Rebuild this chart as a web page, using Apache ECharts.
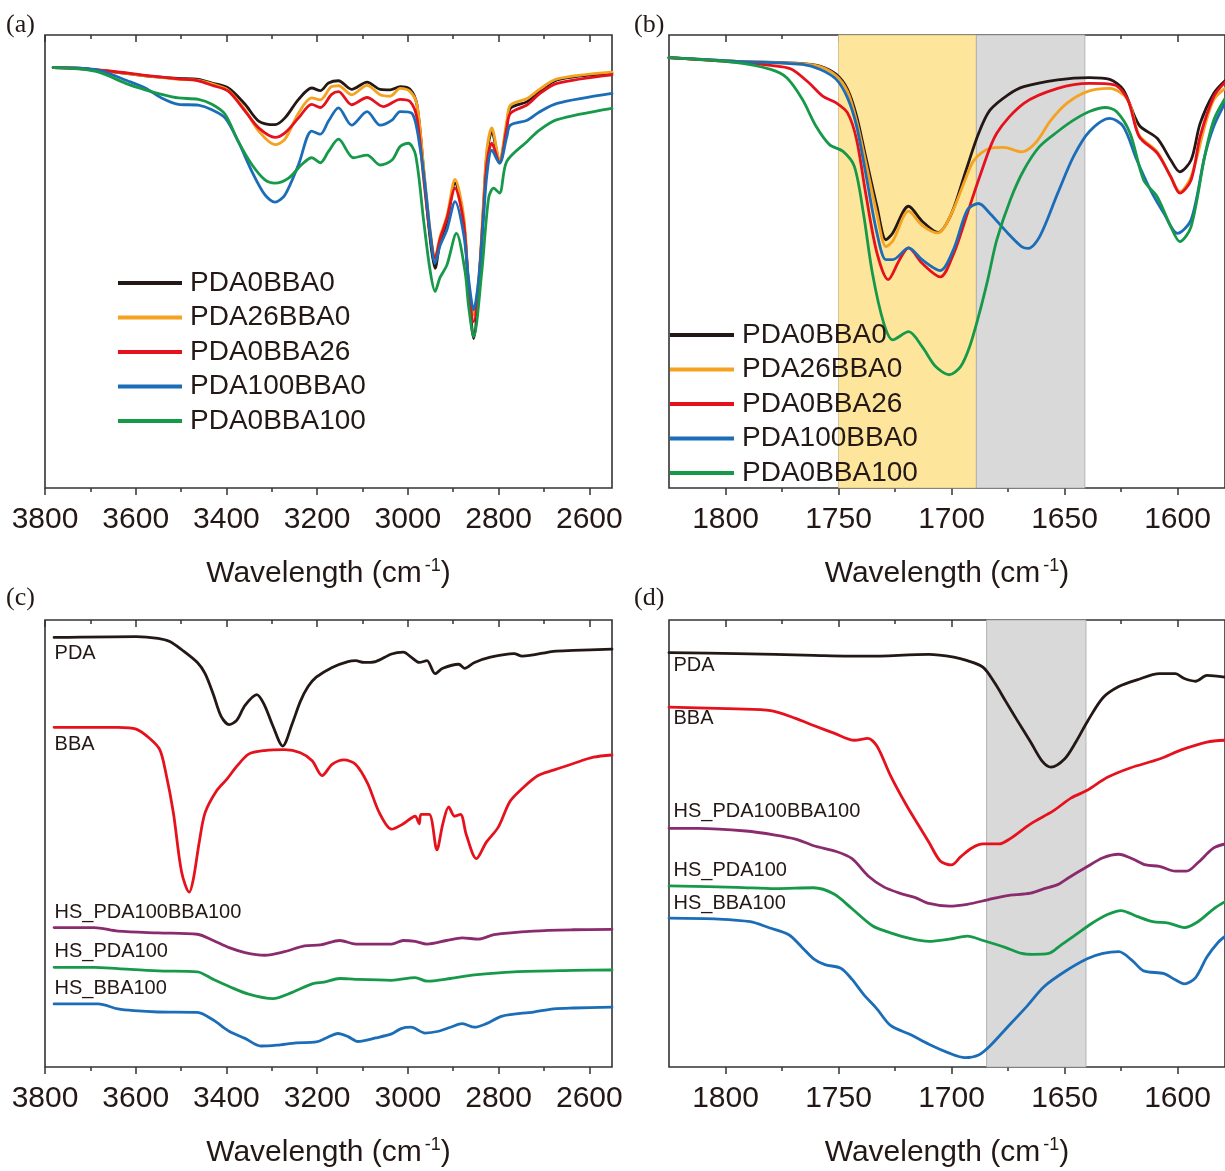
<!DOCTYPE html>
<html>
<head>
<meta charset="utf-8">
<script src="https://cdn.jsdelivr.net/npm/echarts@6/dist/echarts.min.js"></script>
<style>html,body{margin:0;padding:0;background:#fff}#chart{width:1225px;height:1171px}</style>
</head>
<body>
<div id="chart"></div>
<script>
// ---------- tick / label values ----------
const majorWide = [3800,3600,3400,3200,3000,2800,2600];
const minorWide = [3700,3500,3300,3100,2900,2700];
const majorNarrow = [1800,1750,1700,1650,1600];
const minorNarrow = [1775,1725,1675,1625];

// ---------- shaded regions (cm-1) ----------
const bandYellowB = [1750, 1689];
const bandGrayB = [1689, 1641];
const bandGrayD = [1684.5, 1640.5];

// ---------- series names ----------
const namesAB = ['PDA0BBA0','PDA26BBA0','PDA0BBA26','PDA100BBA0','PDA0BBA100'];
const namesCD = ['PDA','BBA','HS_PDA100BBA100','HS_PDA100','HS_BBA100'];

// ---------- panel (a): [wavenumber, transmittance a.u.] ----------
const a_PDA0BBA0 = [[3782,92.8],[3727,92.7],[3653,91.9],[3579,91.0],[3506,90.4],[3462,90.2],[3432,89.4],[3396,88.3],[3359,84.7],[3329,81.0],[3293,80.2],[3271,81.7],[3241,85.8],[3212,88.3],[3193,87.7],[3175,89.4],[3153,89.9],[3124,88.0],[3090,89.6],[3061,88.0],[3039,87.9],[3017,88.6],[2995,88.0],[2980,84.6],[2965,69.9],[2951,55.1],[2940,48.5],[2929,54.4],[2914,58.8],[2896,67.3],[2877,58.8],[2866,44.1],[2855,33.0],[2844,44.1],[2833,62.5],[2826,73.5],[2815,78.7],[2798,72.1],[2782,80.0],[2774,83.8],[2737,85.3],[2710,87.5],[2671,90.1],[2550,91.6]];
const a_PDA26BBA0 = [[3782,92.8],[3727,92.7],[3653,91.9],[3579,91.0],[3506,90.2],[3462,90.0],[3432,89.2],[3396,87.8],[3359,83.5],[3329,78.8],[3293,75.8],[3271,77.0],[3241,82.8],[3212,86.1],[3193,85.7],[3170,88.5],[3153,88.8],[3124,86.8],[3090,88.9],[3061,86.8],[3039,86.5],[3017,88.2],[2995,87.5],[2980,84.6],[2965,70.5],[2951,57.0],[2940,51.0],[2929,55.5],[2914,60.0],[2896,68.1],[2877,60.0],[2866,45.0],[2855,38.2],[2844,46.0],[2833,63.5],[2826,74.5],[2815,79.5],[2798,72.3],[2782,81.0],[2774,84.5],[2737,86.0],[2710,88.0],[2671,90.3],[2550,91.8]];
const a_PDA0BBA26 = [[3782,92.8],[3727,92.6],[3653,92.0],[3579,91.1],[3506,90.3],[3462,89.9],[3432,88.9],[3396,87.6],[3359,83.2],[3329,79.5],[3293,77.4],[3271,78.4],[3241,81.7],[3212,84.7],[3193,84.0],[3168,86.9],[3153,87.5],[3124,84.6],[3090,86.2],[3054,84.2],[3017,85.8],[2995,85.3],[2980,81.7],[2965,68.0],[2951,56.0],[2940,50.7],[2929,55.0],[2914,59.5],[2896,66.2],[2877,58.5],[2866,44.5],[2855,36.7],[2844,45.0],[2833,61.5],[2826,71.5],[2815,76.1],[2798,71.7],[2782,79.5],[2774,82.7],[2737,84.6],[2710,87.0],[2671,89.3],[2550,91.2]];
const a_PDA100BBA0 = [[3782,92.8],[3690,92.4],[3616,89.8],[3579,88.3],[3543,86.1],[3506,84.7],[3462,84.5],[3432,83.5],[3403,81.7],[3374,76.5],[3344,69.9],[3315,64.7],[3293,63.1],[3271,64.7],[3241,71.4],[3212,78.8],[3193,78.1],[3175,81.0],[3153,83.9],[3124,80.1],[3090,83.1],[3061,80.1],[3035,81.2],[3017,83.1],[2991,82.7],[2973,75.0],[2960,65.0],[2951,56.5],[2940,49.6],[2929,53.5],[2914,57.0],[2896,63.2],[2877,56.0],[2866,46.0],[2855,39.3],[2844,46.0],[2833,60.0],[2826,69.0],[2815,74.6],[2798,71.7],[2782,77.5],[2774,80.1],[2737,81.2],[2710,83.0],[2671,84.9],[2550,87.1]];
const a_PDA0BBA100 = [[3782,92.8],[3690,92.0],[3616,89.1],[3579,87.9],[3543,86.9],[3506,86.1],[3462,85.8],[3432,84.7],[3403,82.5],[3374,76.5],[3344,71.4],[3315,68.0],[3293,67.3],[3263,68.4],[3234,71.4],[3212,72.9],[3193,71.8],[3175,74.3],[3153,77.0],[3120,72.9],[3090,73.5],[3061,71.3],[3035,72.4],[3017,75.4],[2999,76.1],[2983,73.5],[2965,58.8],[2951,48.0],[2940,43.4],[2929,46.5],[2914,49.2],[2893,56.2],[2874,47.8],[2866,40.0],[2855,33.4],[2837,47.8],[2822,64.0],[2811,66.2],[2798,65.1],[2782,72.1],[2737,76.5],[2710,79.0],[2671,81.3],[2550,83.8]];

// ---------- panel (b) ----------
const b_PDA0BBA0 = [[1825,95.0],[1795,94.2],[1766,93.7],[1758,93.1],[1751,91.3],[1746,88.0],[1742,82.1],[1738,73.2],[1733,62.2],[1729,54.8],[1726,56.3],[1719,62.2],[1713,58.9],[1706,56.4],[1700,60.6],[1694,69.5],[1688,78.3],[1683,83.4],[1675,86.8],[1668,88.6],[1653,90.1],[1639,90.6],[1630,90.2],[1624,87.9],[1617,80.1],[1609,77.2],[1603,72.4],[1599,69.8],[1594,72.4],[1590,80.5],[1584,87.1],[1579,89.9]];
const b_PDA26BBA0 = [[1825,95.0],[1795,94.2],[1766,93.6],[1758,93.0],[1751,91.0],[1746,87.5],[1742,81.0],[1738,72.0],[1733,60.5],[1729,53.3],[1726,54.5],[1719,61.1],[1713,58.0],[1706,56.3],[1700,60.6],[1694,68.0],[1690,72.4],[1683,75.0],[1677,75.2],[1669,74.2],[1663,76.1],[1656,81.2],[1649,84.9],[1640,87.5],[1630,88.2],[1622,85.7],[1617,77.9],[1609,74.2],[1603,68.7],[1599,65.4],[1594,68.7],[1588,79.8],[1584,85.7],[1579,88.2]];
const b_PDA0BBA26 = [[1825,95.0],[1795,94.0],[1780,93.3],[1771,92.5],[1763,89.4],[1757,86.5],[1751,85.0],[1746,82.8],[1742,76.9],[1738,65.1],[1733,51.9],[1728,46.0],[1723,50.4],[1719,53.0],[1713,49.6],[1705,46.6],[1699,51.8],[1693,60.6],[1687,69.5],[1680,78.3],[1668,84.9],[1653,88.2],[1639,89.3],[1628,89.0],[1622,85.7],[1617,77.6],[1609,73.9],[1603,68.7],[1599,65.1],[1594,68.0],[1590,77.6],[1584,86.4],[1579,89.6]];
const b_PDA100BBA0 = [[1825,95.0],[1795,94.2],[1766,93.5],[1758,92.4],[1751,90.2],[1746,86.1],[1742,79.9],[1738,69.6],[1733,56.3],[1729,50.4],[1726,50.4],[1719,53.0],[1713,50.4],[1705,48.0],[1699,52.8],[1693,61.4],[1688,62.8],[1683,60.6],[1675,56.2],[1669,53.3],[1666,52.9],[1661,55.5],[1653,65.1],[1646,73.2],[1639,78.7],[1630,81.6],[1624,79.8],[1618,72.4],[1612,65.8],[1606,60.6],[1600,56.2],[1594,59.2],[1588,73.2],[1584,79.8],[1579,85.0]];
const b_PDA0BBA100 = [[1825,95.0],[1795,93.9],[1780,92.4],[1773,90.6],[1766,85.8],[1760,79.9],[1754,75.8],[1748,74.3],[1743,71.0],[1739,60.7],[1735,47.4],[1730,36.4],[1726,32.7],[1719,34.5],[1713,31.2],[1707,26.8],[1701,25.0],[1696,26.8],[1692,31.2],[1688,38.0],[1684,45.9],[1680,54.7],[1674,63.6],[1668,70.2],[1661,75.4],[1653,78.7],[1646,81.2],[1639,83.1],[1632,84.0],[1627,83.1],[1621,78.3],[1615,68.0],[1609,64.3],[1603,57.7],[1599,54.4],[1594,57.7],[1588,73.2],[1584,81.2],[1579,86.0]];

// ---------- panel (c) ----------
const c_PDA = [[3780,96.1],[3599,96.3],[3551,95.9],[3525,95.2],[3499,93.4],[3464,90.5],[3447,88.0],[3429,83.4],[3412,78.5],[3394,76.6],[3377,77.6],[3359,80.9],[3333,83.3],[3316,80.9],[3298,76.4],[3276,71.8],[3255,76.8],[3237,81.8],[3220,85.1],[3202,87.2],[3167,89.4],[3132,90.7],[3115,90.9],[3097,90.5],[3071,90.7],[3036,92.4],[3010,92.8],[2993,91.7],[2975,90.5],[2958,90.9],[2940,88.0],[2923,89.2],[2888,90.1],[2875,89.2],[2853,90.5],[2818,91.7],[2766,92.5],[2748,91.9],[2679,93.0],[2635,93.2],[2550,93.5]];
const c_BBA = [[3780,76.0],[3639,76.0],[3599,75.6],[3569,73.5],[3547,71.0],[3534,66.0],[3517,56.9],[3499,43.7],[3482,39.1],[3473,42.0],[3460,50.3],[3447,56.9],[3421,61.9],[3399,64.4],[3377,67.3],[3351,70.0],[3316,70.8],[3272,71.0],[3237,70.3],[3211,68.5],[3189,65.2],[3167,67.7],[3141,68.7],[3115,67.7],[3089,63.5],[3063,56.9],[3036,53.2],[3010,54.4],[2984,56.1],[2975,54.4],[2971,56.5],[2953,56.5],[2936,48.6],[2923,54.4],[2910,58.2],[2897,56.1],[2884,56.5],[2871,51.9],[2849,46.6],[2827,50.3],[2801,53.6],[2775,59.4],[2748,62.3],[2713,65.2],[2679,66.4],[2635,67.9],[2591,69.3],[2550,69.8]];
const c_HS_PDA100BBA100 = [[3780,31.2],[3692,31.2],[3639,30.4],[3551,30.0],[3464,29.7],[3429,28.3],[3394,26.7],[3359,25.6],[3316,25.0],[3272,25.8],[3228,27.1],[3193,27.3],[3150,28.3],[3115,27.5],[3036,27.5],[3010,28.3],[2984,28.1],[2958,27.5],[2915,28.3],[2880,28.9],[2845,28.6],[2810,29.6],[2723,30.4],[2635,30.7],[2550,30.8]];
const c_HS_PDA100 = [[3780,22.3],[3692,22.3],[3639,22.0],[3551,21.5],[3464,21.3],[3429,19.6],[3394,18.0],[3351,16.3],[3298,15.3],[3255,16.7],[3211,18.6],[3185,19.0],[3150,19.8],[3115,19.6],[3036,19.4],[2984,20.0],[2958,19.2],[2906,19.8],[2853,20.6],[2766,21.3],[2635,21.6],[2550,21.7]];
const c_HS_BBA100 = [[3780,14.1],[3683,14.1],[3639,13.0],[3604,12.6],[3551,12.3],[3464,12.2],[3429,10.5],[3394,8.0],[3359,6.4],[3324,4.7],[3289,4.9],[3246,5.4],[3202,5.6],[3180,6.5],[3154,7.5],[3132,6.8],[3110,5.7],[3071,6.5],[3036,7.4],[3015,8.6],[2993,8.9],[2962,7.6],[2932,8.0],[2906,8.9],[2880,9.7],[2853,8.9],[2827,9.7],[2792,11.4],[2723,12.3],[2679,13.0],[2635,13.2],[2550,13.4]];

// ---------- panel (d) ----------
const d_PDA = [[1825,92.7],[1795,92.5],[1761,92.1],[1737,91.9],[1710,92.3],[1699,91.7],[1693,90.9],[1686,89.4],[1681,86.0],[1676,81.8],[1671,77.6],[1665,72.7],[1660,68.5],[1656,67.1],[1650,68.9],[1645,72.7],[1640,77.2],[1633,82.6],[1626,85.1],[1618,86.6],[1608,88.0],[1601,88.0],[1597,86.9],[1592,86.3],[1587,87.6],[1579,87.2]];
const d_BBA = [[1825,80.5],[1795,80.1],[1780,79.7],[1769,78.0],[1761,76.4],[1752,74.7],[1743,73.1],[1737,73.5],[1733,71.8],[1727,65.2],[1720,58.6],[1715,54.4],[1710,50.3],[1705,46.1],[1700,45.2],[1696,47.0],[1691,49.0],[1686,49.9],[1679,49.9],[1674,51.1],[1665,54.4],[1655,57.3],[1647,60.2],[1640,61.9],[1631,64.8],[1621,66.9],[1608,68.9],[1598,71.0],[1587,72.7],[1579,73.1]];
const d_HS_PDA100BBA100 = [[1825,53.4],[1812,53.4],[1791,52.8],[1778,51.9],[1769,51.0],[1761,49.5],[1751,48.2],[1744,46.6],[1737,42.8],[1730,40.3],[1723,38.9],[1716,37.9],[1710,36.6],[1701,36.0],[1693,36.4],[1684,37.4],[1676,38.3],[1665,38.9],[1659,39.9],[1653,40.8],[1648,42.4],[1641,44.5],[1633,46.8],[1626,47.6],[1620,46.6],[1614,45.2],[1608,44.9],[1601,43.8],[1596,43.8],[1591,45.7],[1584,49.0],[1579,49.9]];
const d_HS_PDA100 = [[1825,40.5],[1795,40.2],[1778,39.9],[1761,40.1],[1752,38.7],[1744,35.4],[1735,31.6],[1727,30.0],[1718,28.7],[1710,28.1],[1701,28.6],[1693,29.3],[1686,28.3],[1676,26.7],[1669,25.4],[1664,25.2],[1657,25.4],[1652,27.1],[1645,29.6],[1638,32.1],[1631,34.1],[1625,35.0],[1618,33.7],[1611,32.5],[1604,32.2],[1597,31.2],[1591,32.5],[1584,35.4],[1579,37.0]];
const d_HS_BBA100 = [[1825,33.3],[1803,33.1],[1789,32.5],[1781,31.2],[1772,29.6],[1766,26.7],[1761,24.2],[1756,22.9],[1749,22.1],[1744,19.6],[1739,16.3],[1733,13.0],[1727,9.3],[1718,7.2],[1710,5.1],[1701,3.1],[1694,2.1],[1688,2.7],[1683,4.7],[1676,8.5],[1667,13.4],[1659,18.0],[1650,21.3],[1640,24.2],[1633,25.4],[1626,25.8],[1620,23.8],[1615,21.5],[1606,20.9],[1601,19.5],[1597,18.6],[1592,20.0],[1587,24.6],[1582,27.9],[1579,29.2]];

// ---------- styling ----------
const SANS = 'Arial, "Liberation Sans", Helvetica, sans-serif';
const SERIF = '"Times New Roman", "Liberation Serif", serif';
const INK = '#231815';
const colorsAB = ['#231815','#F4A21F','#E5121D','#1C6DB7','#17994A'];
const colorsCD = ['#231815','#E5121D','#8A2B6E','#17994A','#1C6DB7'];
const labelOffsetsC = [[1,17],[1,18],[1,-15],[1,-15],[1,-15]];
const labelOffsetsD = [[5,13],[5,12],[5,-16],[5,-15],[5,-14]];

const grids = [
  {left:45, top:35, width:567, height:453},
  {left:669, top:35, width:558, height:453},
  {left:45, top:620, width:567, height:453},
  {left:669, top:620, width:558, height:453}
].map(g => Object.assign({show:true, borderColor:'#333', borderWidth:1.6, backgroundColor:'transparent'}, g));

function tickAxis(gi, min, max, pos, inside, ticks, len) {
  return {
    type:'value', gridIndex:gi, min:min, max:max, inverse:true, position:pos,
    axisLine:{show:false}, splitLine:{show:false},
    axisTick:{show:true, inside:inside, customValues:ticks, length:len, lineStyle:{color:'#333', width:1.5}},
    axisLabel:{show:false}
  };
}

function xAxes(gi, min, max, major, minor) {
  return [{
    type:'value', gridIndex:gi, min:min, max:max, inverse:true, position:'bottom',
    axisLine:{show:false}, splitLine:{show:false},
    axisTick:{show:true, customValues:major, length:7, lineStyle:{color:'#333', width:1.5}},
    axisLabel:{show:true, customValues:major, margin:17, fontSize:30, lineHeight:30, color:'#231815', fontFamily:SANS,
      formatter: v => String(v)},
    name:'Wavelength (cm{sup|-1})', nameLocation:'middle', nameGap:69,
    nameTextStyle:{fontSize:30, lineHeight:34, color:'#231815', fontFamily:SANS,
      rich:{sup:{fontSize:18, lineHeight:18, verticalAlign:'top', padding:[0,0,0,3], fontFamily:SANS, color:'#231815'}}}
  },
  tickAxis(gi, min, max, 'bottom', false, minor, 4),
  tickAxis(gi, min, max, 'top', true, major, 7),
  tickAxis(gi, min, max, 'top', true, minor, 4)];
}

const xAxis = [].concat(
  xAxes(0, 2550, 3800, majorWide, minorWide),
  xAxes(1, 1579, 1825, majorNarrow, minorNarrow),
  xAxes(2, 2550, 3800, majorWide, minorWide),
  xAxes(3, 1579, 1825, majorNarrow, minorNarrow)
);
const yAxis = [0,1,2,3].map(gi => ({type:'value', gridIndex:gi, min:0, max:100,
  axisLine:{show:false}, axisTick:{show:false}, axisLabel:{show:false}, splitLine:{show:false}}));

function lineSeries(name, data, xi, yi, color, extra) {
  return Object.assign({
    type:'line', name:name, data:data, xAxisIndex:xi, yAxisIndex:yi,
    showSymbol:false, symbol:'none', smooth:0.3, z:3,
    lineStyle:{color:color, width:2.8, join:'round', cap:'round'}, itemStyle:{color:color}, silent:true
  }, extra || {});
}

const aData = [a_PDA0BBA0, a_PDA26BBA0, a_PDA0BBA26, a_PDA100BBA0, a_PDA0BBA100];
const bData = [b_PDA0BBA0, b_PDA26BBA0, b_PDA0BBA26, b_PDA100BBA0, b_PDA0BBA100];
const cData = [c_PDA, c_BBA, c_HS_PDA100BBA100, c_HS_PDA100, c_HS_BBA100];
const dData = [d_PDA, d_BBA, d_HS_PDA100BBA100, d_HS_PDA100, d_HS_BBA100];

function labelMark(name, pt, off) {
  return {
    symbol:'rect', symbolSize:1, silent:true, animation:false,
    itemStyle:{color:'rgba(0,0,0,0)'},
    label:{show:true, position:off, formatter:name, align:'left', verticalAlign:'middle',
      fontSize:20, color:INK, fontFamily:SANS},
    data:[{coord:pt}]
  };
}

// bottom x-axis index of each grid (4 x-axes per grid)
const XI = [0, 4, 8, 12];

const series = [];
series.push({type:'line', name:'bandB', xAxisIndex:XI[1], yAxisIndex:1, data:[], z:1, silent:true,
  markArea:{silent:true, data:[
    [{xAxis:bandYellowB[0], itemStyle:{color:'#FDE59C', borderColor:'#C9B98A', borderWidth:0.8}}, {xAxis:bandYellowB[1]}],
    [{xAxis:bandGrayB[0], itemStyle:{color:'#D9D9D9', borderColor:'#A8A8A8', borderWidth:0.8}}, {xAxis:bandGrayB[1]}]
  ]}});
series.push({type:'line', name:'bandD', xAxisIndex:XI[3], yAxisIndex:3, data:[], z:1, silent:true,
  markArea:{silent:true, data:[
    [{xAxis:bandGrayD[0], itemStyle:{color:'#D9D9D9', borderColor:'#A8A8A8', borderWidth:0.8}}, {xAxis:bandGrayD[1]}]
  ]}});

namesAB.forEach((n,i) => series.push(lineSeries(n, aData[i], XI[0], 0, colorsAB[i])));
namesAB.forEach((n,i) => series.push(lineSeries(n, bData[i], XI[1], 1, colorsAB[i])));
namesCD.forEach((n,i) => series.push(lineSeries(n, cData[i], XI[2], 2, colorsCD[i], {markPoint:labelMark(n, cData[i][0], labelOffsetsC[i])})));
namesCD.forEach((n,i) => series.push(lineSeries(n, dData[i], XI[3], 3, colorsCD[i], {markPoint:labelMark(n, dData[i][0], labelOffsetsD[i])})));

const legendBase = {orient:'vertical', icon:'rect', itemWidth:64, itemHeight:4, itemGap:6.5,
  selectedMode:false, data:namesAB, padding:0,
  textStyle:{fontSize:28, lineHeight:28, color:INK, fontFamily:SANS, padding:[0,0,0,3]}};

const letterStyle = {fontFamily:SERIF, fontSize:26, fontWeight:'normal', color:INK};

const option = {
  animation:false,
  backgroundColor:'#fff',
  title:[
    {text:'(a)', left:1, top:7, textStyle:letterStyle},
    {text:'(b)', left:629, top:7, textStyle:letterStyle},
    {text:'(c)', left:1, top:580, textStyle:letterStyle},
    {text:'(d)', left:629, top:580, textStyle:letterStyle}
  ],
  legend:[
    Object.assign({}, legendBase, {left:118, top:269}),
    Object.assign({}, legendBase, {left:670, top:321})
  ],
  grid:grids,
  xAxis:xAxis,
  yAxis:yAxis,
  series:series
};

const chart = echarts.init(document.getElementById('chart'), null, {renderer:'canvas'});
chart.setOption(option);
</script>
</body>
</html>
